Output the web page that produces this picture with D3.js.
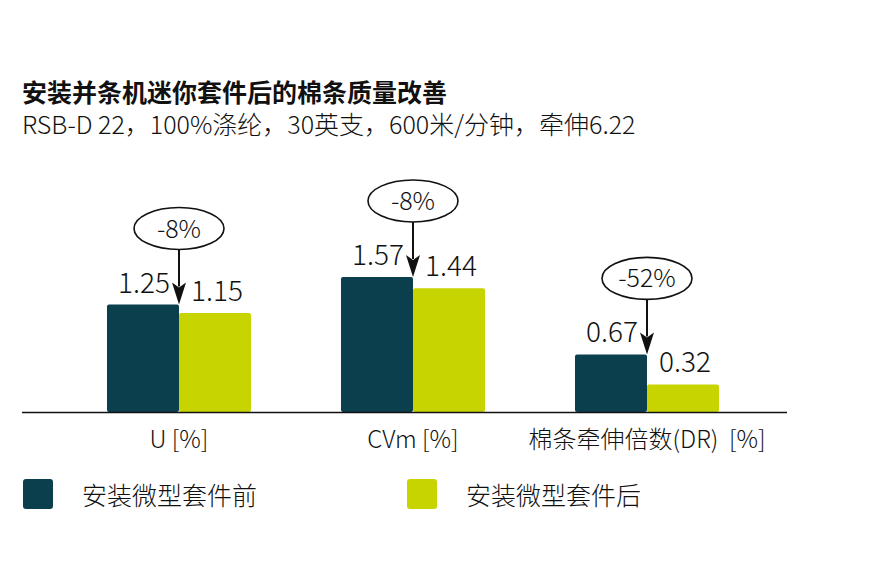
<!DOCTYPE html>
<html><head><meta charset="utf-8">
<script src="https://cdn.jsdelivr.net/npm/d3@7"></script>
<style>
body{margin:0;background:#fff;}
text{font-family:"Noto Sans CJK SC","Noto Sans",sans-serif;fill:#111;font-weight:300;white-space:pre;}
</style></head>
<body><svg id="c" width="890" height="586"></svg>
<script>
const title = "安装并条机迷你套件后的棉条质量改善";
const subtitle = "RSB-D 22，100%涤纶，30英支，600米/分钟，牵伸6.22";
const categories = ["U [%]", "CVm [%]", "棉条牵伸倍数(DR)  [%]"];
const series = ["安装微型套件前", "安装微型套件后"];
const before = [1.25, 1.57, 0.67];
const after = [1.15, 1.44, 0.32];
const changes = ["-8%", "-8%", "-52%"];
const colors = ["#0b3f4d", "#c8d400"];

const svg = d3.select("#c");
const baseY = 412;
const x = d3.scaleBand().domain(categories).range([62, 764]).paddingInner(0.3846).paddingOuter(0.1923);
const xs = d3.scaleBand().domain(series).range([0, x.bandwidth()]);
const y = d3.scaleLinear().domain([0, 2]).range([baseY, baseY - 2 * 86]);
const vals = [before, after];

svg.append("text").attr("x", 22).attr("y", 102).attr("font-size", 25).style("font-weight", "bold").text(title);
svg.append("text").attr("x", 22).attr("y", 134).attr("font-size", 25).text(subtitle);

// bars
series.forEach((s, si) => {
  const g = svg.append("g");
  g.selectAll("rect").data(categories).join("rect")
    .attr("x", c => x(c) + xs(s))
    .attr("y", (c, i) => y(vals[si][i]))
    .attr("width", xs.bandwidth())
    .attr("height", (c, i) => baseY - y(vals[si][i]))
    .attr("rx", 2)
    .attr("fill", colors[si]);
  g.selectAll("text").data(categories).join("text")
    .attr("x", c => x(c) + xs(s) + xs.bandwidth() / 2 + (si === 0 ? 1 : 2))
    .attr("y", (c, i) => y(vals[si][i]) - 12)
    .attr("text-anchor", "middle")
    .attr("font-size", 28)
    .text((c, i) => vals[si][i].toFixed(2));
});

// axis
const xAxis = d3.axisBottom(x).tickSize(0).tickPadding(19);
const ax = svg.append("g").attr("transform", `translate(0,${baseY})`).call(xAxis);
ax.select(".domain").remove();
ax.selectAll("text").attr("font-size", 24).attr("fill", "#111").attr("dy", "0.71em")
  .style("font-family", '"Noto Sans CJK SC","Noto Sans",sans-serif').style("font-weight", 300)
  .style("white-space", "pre");
svg.append("line").attr("x1", 22).attr("x2", 787).attr("y1", baseY + 0.5).attr("y2", baseY + 0.5)
  .attr("stroke", "#111").attr("stroke-width", 1.6);

// annotations
const ann = svg.append("g");
categories.forEach((c, i) => {
  const cx = x(c) + x.bandwidth() / 2;
  const tipY = y(before[i]);
  const cy = tipY - 76;
  const ry = 21, rx = 45;
  ann.append("ellipse").attr("cx", cx).attr("cy", cy).attr("rx", rx).attr("ry", ry)
    .attr("fill", "#fff").attr("stroke", "#111").attr("stroke-width", 1.6);
  ann.append("text").attr("x", cx).attr("y", cy + 9).attr("text-anchor", "middle")
    .attr("font-size", 25).text(changes[i]);
  const headLen = 22, headW = 7;
  ann.append("line").attr("x1", cx).attr("x2", cx).attr("y1", cy + ry).attr("y2", tipY - headLen + 4)
    .attr("stroke", "#111").attr("stroke-width", 2);
  ann.append("path")
    .attr("d", `M${cx},${tipY} L${cx - headW},${tipY - headLen} L${cx},${tipY - headLen + 5} L${cx + headW},${tipY - headLen} Z`)
    .attr("fill", "#111");
});

// legend
const legX = [23, 407];
series.forEach((s, si) => {
  svg.append("rect").attr("x", legX[si]).attr("y", 479).attr("width", 30).attr("height", 30)
    .attr("rx", 3).attr("fill", colors[si]);
  svg.append("text").attr("x", legX[si] + 59).attr("y", 505).attr("font-size", 25).text(s);
});
</script></body></html>
